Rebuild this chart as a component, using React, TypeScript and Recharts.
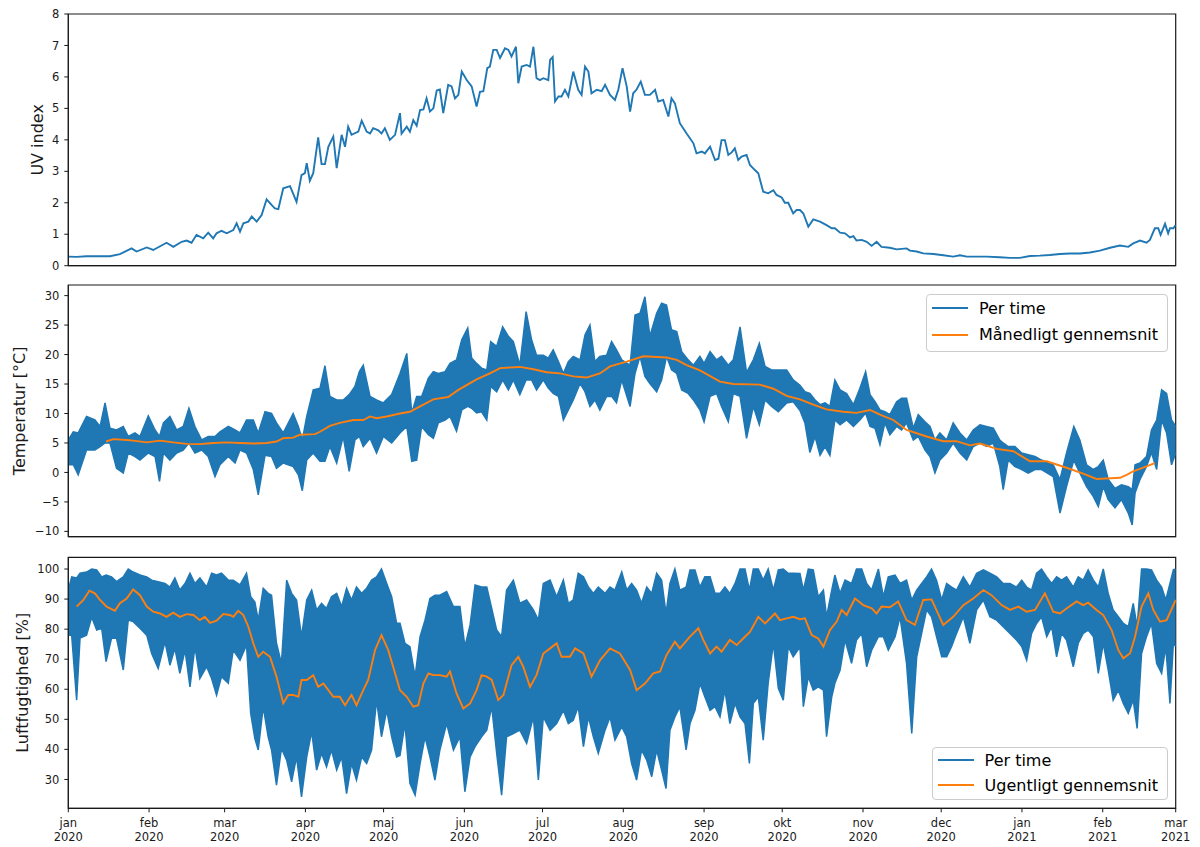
import React from 'react';
import { ComposedChart, Line, Area, XAxis, YAxis, ReferenceArea, Legend } from 'recharts';

const BLUE = '#1f77b4';
const ORANGE = '#ff7f0e';
const INK = '#1a1a1a';
const FONT = '"DejaVu Sans", sans-serif';

// x axis is days since 1 jan 2020
const monthTickDays = [0, 31, 60, 91, 121, 152, 182, 213, 244, 274, 305, 335, 366, 397, 425];
const monthNames = ['jan', 'feb', 'mar', 'apr', 'maj', 'jun', 'jul', 'aug', 'sep', 'okt', 'nov', 'dec', 'jan', 'feb', 'mar'];
const monthYears = ['2020', '2020', '2020', '2020', '2020', '2020', '2020', '2020', '2020', '2020', '2020', '2020', '2021', '2021', '2021'];

const uvTicks = [0, 1, 2, 3, 4, 5, 6, 7, 8];
const tempTicks = [-10, -5, 0, 5, 10, 15, 20, 25, 30];
const humTicks = [30, 40, 50, 60, 70, 80, 90, 100];

const tempLegend = ['Per time', 'Månedligt gennemsnit'];
const humLegend = ['Per time', 'Ugentligt gennemsnit'];

// daily UV index
const uvDay = [
  0, 3.2, 7, 12.2, 16, 19.8, 24.3, 26.2, 30.1, 32.6,
  37.7, 40.3, 43.5, 45.4, 47.3, 49.2, 51.8, 53.7, 55.6, 56.9,
  58.8, 60.8, 63.3, 64.6, 65.9, 67.2, 69.1, 70.4, 72.3, 74.2,
  76.1, 78, 79.3, 80.6, 82.5, 85.1, 87.6, 89.5, 90.8, 91.5,
  92.7, 94, 95.9, 97.2, 98.5, 99.8, 101.7, 103, 104.9, 106.2,
  107.4, 108.7, 111.3, 112.6, 114.5, 115.8, 117, 119, 120.2, 121.5,
  123.4, 125.4, 127.3, 127.9, 129.9, 131.1, 132.4, 133.7, 135, 136.3,
  137.5, 138.8, 140.1, 141.4, 142.6, 143.9, 145.8, 147.1, 148.4, 149.7,
  151, 152.9, 154.8, 156.7, 158, 159.3, 160.8, 161.8, 163.1, 164.4,
  165.7, 167.6, 168.9, 170.1, 171.8, 172.7, 174, 175.9, 177.2, 178.5,
  179.7, 181, 182.3, 184.2, 184.9, 185.9, 186.8, 188.1, 189.3, 190.6,
  191.9, 193.8, 195.7, 197, 198.3, 199.6, 200.8, 202.8, 204.7, 206,
  207.9, 209.8, 211.1, 212.7, 214.3, 215.6, 216.8, 218.1, 219.7, 221.3,
  223.2, 225.2, 226.4, 228.3, 230.3, 231.5, 232.8, 234.7, 237.3, 239.9,
  241.1, 243.1, 244.3, 246.3, 248.2, 249.5, 250.7, 252, 253.3, 254.6,
  255.8, 257.1, 258.4, 260.3, 261.6, 263.5, 264.8, 266.7, 268.6, 270.6,
  271.8, 273.8, 275, 276.3, 278.2, 279.5, 280.8, 282.1, 284, 285.9,
  288.5, 291, 293, 294.2, 296.2, 298.1, 300, 301.3, 302.5, 304.5,
  306.4, 308.3, 310.2, 312.1, 315.3, 317.9, 321.7, 323, 325.6, 328.1,
  332, 335.8, 339.6, 342.2, 344.8, 348.6, 352.4, 357.5, 361.4, 365.2,
  369.1, 372.9, 376.7, 380.6, 384.4, 388.2, 392.1, 395.9, 399.8, 403.6,
  406.8, 408.7, 411.3, 413.8, 415.1, 417, 418.3, 419.2, 420.9, 422.1,
  422.8, 424.1, 425,
];
const uvIndex = [
  0.29, 0.28, 0.3, 0.3, 0.3, 0.37, 0.55, 0.45, 0.58, 0.5,
  0.73, 0.6, 0.76, 0.8, 0.73, 0.98, 0.87, 1.05, 0.87, 1.03,
  1.11, 1.03, 1.13, 1.35, 1.08, 1.35, 1.4, 1.56, 1.4, 1.61,
  2.11, 1.93, 1.82, 1.8, 2.46, 2.53, 2.03, 2.88, 2.94, 3.26,
  2.7, 2.94, 4.08, 3.23, 3.23, 3.78, 4.1, 3.1, 4.16, 3.78,
  4.42, 4.16, 4.26, 4.61, 4.26, 4.2, 4.37, 4.3, 4.2, 4.37,
  4.0, 4.16, 4.85, 4.2, 4.42, 4.26, 4.63, 4.45, 4.95, 4.97,
  5.32, 4.9, 5.0, 5.57, 5.6, 4.85, 5.75, 5.7, 5.32, 5.43,
  6.17, 5.9, 5.7, 5.06, 5.53, 5.55, 6.28, 6.33, 6.86, 6.86,
  6.6, 6.91, 6.86, 6.65, 6.96, 5.8, 6.33, 6.38, 6.33, 6.96,
  5.96, 5.9, 5.96, 5.9, 6.54, 6.63, 5.22, 5.38, 5.38, 5.59,
  5.38, 6.17, 5.59, 5.43, 6.33, 6.17, 5.48, 5.59, 5.55, 5.75,
  5.43, 5.27, 5.6, 6.28, 5.7, 4.9, 5.48, 5.6, 5.85, 5.43,
  5.43, 5.59, 5.22, 5.27, 4.74, 5.32, 5.16, 4.53, 4.2, 3.89,
  3.57, 3.63, 3.57, 3.78, 3.36, 3.4, 3.99, 3.99, 3.52, 3.6,
  3.73, 3.36, 3.47, 3.52, 3.2, 3.04, 2.94, 2.35, 2.3, 2.4,
  2.25, 2.17, 2.0, 2.0, 1.66, 1.77, 1.77, 1.66, 1.24, 1.47,
  1.4, 1.29, 1.19, 1.19, 1.05, 1.03, 0.9, 0.94, 0.8, 0.82,
  0.76, 0.63, 0.76, 0.6, 0.57, 0.52, 0.55, 0.48, 0.45, 0.39,
  0.37, 0.33, 0.29, 0.33, 0.29, 0.29, 0.29, 0.27, 0.25, 0.25,
  0.31, 0.32, 0.34, 0.37, 0.39, 0.39, 0.42, 0.48, 0.57, 0.64,
  0.6, 0.71, 0.8, 0.73, 0.82, 1.19, 1.19, 0.98, 1.33, 1.03,
  1.19, 1.19, 1.29,
];

// hourly temperature, read as the low/high envelope of the band
const tempDay = [
  0, 1.9, 3.8, 7, 10.2, 12.2, 14.1, 16, 18.5, 21.1,
  23, 25.6, 27.5, 30.7, 33.3, 35, 36.5, 39, 41.6, 44.1,
  46.3, 48.6, 51.2, 53.7, 56.3, 58.2, 61.4, 64, 65.9, 68.4,
  71, 72.9, 75.5, 78, 79.9, 82.5, 86.3, 88.3, 89.8, 91.5,
  94, 96.6, 98.5, 100.4, 103, 105.5, 107.8, 110, 111.7, 113.2,
  115.8, 118.3, 120.9, 124.1, 127.3, 129.9, 131.8, 133.7, 135.6, 138.2,
  140.1, 142, 144.6, 146.5, 149, 151, 153.3, 154.8, 156.7, 158.6,
  160.6, 162.1, 164.4, 166.7, 168.9, 170.8, 173.3, 175.7, 177.8, 179.7,
  182.3, 184.2, 186.1, 188.1, 190, 191.9, 193.8, 196.4, 198.3, 200.2,
  202.1, 204, 206.6, 208.5, 210.4, 212.4, 215.6, 217.5, 219.4, 221.3,
  223.2, 225.8, 227.7, 229.6, 231.5, 233.5, 235.4, 237.9, 239.9, 242.4,
  244, 246.3, 248.8, 250.7, 253.3, 255.2, 257.8, 260.3, 262.9, 265.2,
  267.4, 269.9, 272.5, 275.7, 278.2, 280.8, 282.7, 284.6, 286.6, 288.5,
  290.4, 292.3, 294.2, 296.2, 298.7, 301.3, 303.8, 306, 307.7, 309.6,
  311.5, 313.4, 315.3, 317.9, 319.8, 321.7, 324.3, 326.2, 328.8, 330.7,
  332.6, 334.5, 337.1, 339.6, 342.2, 344.8, 347.3, 349.9, 352.4, 355,
  357.5, 358.8, 360.7, 363.3, 365.9, 368.4, 371, 373.5, 378, 380.6,
  383.1, 385.9, 388.2, 390.8, 393.4, 395.3, 397.2, 399.1, 401.7, 404.2,
  406.8, 408.3, 409.4, 411.3, 413.8, 415.7, 417.7, 419.6, 421.5, 423.4,
  425,
];
const tempHigh = [
  5.5, 6.9, 6.7, 9.5, 8.9, 7.8, 11.8, 7.5, 7.2, 7.8,
  6.1, 6.7, 6.1, 9.6, 7.2, 6.1, 8.4, 9.5, 7.2, 7.8,
  10.9, 7.8, 5.5, 6.1, 6.1, 6.9, 7.8, 7.2, 6.7, 8.9,
  8.9, 6.7, 10.3, 10.0, 8.4, 6.7, 10.0, 7.8, 5.5, 9.5,
  14.0, 14.3, 18.1, 12.9, 12.3, 12.3, 13.2, 14.6, 17.1, 18.2,
  12.9, 12.3, 11.8, 13.2, 16.8, 20.2, 10.1, 12.9, 12.9, 16.0,
  17.1, 16.8, 17.1, 18.5, 19.1, 22.5, 24.5, 19.4, 18.5, 17.7,
  17.4, 22.2, 21.4, 24.7, 23.1, 22.2, 18.2, 27.3, 22.5, 19.9,
  19.9, 19.4, 20.8, 18.8, 16.8, 18.8, 19.7, 19.1, 23.3, 25.0,
  18.8, 19.7, 19.9, 22.2, 20.8, 19.1, 18.2, 26.7, 27.0, 29.8,
  23.1, 27.0, 28.7, 28.4, 24.2, 23.9, 20.5, 19.1, 18.2, 19.7,
  18.5, 20.5, 19.1, 19.7, 18.2, 19.1, 24.7, 17.0, 19.1, 21.9,
  18.0, 17.4, 17.4, 17.4, 15.7, 14.8, 13.7, 13.4, 12.3, 11.5,
  11.8, 11.2, 15.7, 14.0, 13.4, 11.5, 14.3, 17.1, 13.2, 12.0,
  10.6, 10.3, 9.8, 12.0, 12.6, 12.6, 7.5, 9.8, 8.6, 7.8,
  5.5, 6.7, 5.5, 8.4, 6.7, 5.5, 7.2, 8.1, 7.8, 7.5,
  5.5, 5.0, 4.4, 4.4, 3.3, 3.0, 2.7, 2.1, 1.3, -1.2,
  3.3, 7.8, 5.5, 1.3, 0.5, 1.0, 2.1, -1.2, -2.7, -2.1,
  -2.4, -2.9, 1.3, 1.6, 2.7, 7.2, 8.9, 14.0, 13.4, 8.9,
  7.8,
];
const tempLow = [
  1.3, 1.3, -0.4, 3.8, 3.8, 4.4, 5.0, 5.0, 0.7, -0.1,
  3.3, 2.7, 2.1, 3.3, 2.7, -1.5, 3.3, 2.1, 3.3, 3.8,
  5.0, 3.3, 3.8, 2.7, -0.7, 1.3, 2.7, 1.6, 3.8, 3.3,
  0.5, -3.8, 2.9, 2.7, 0.7, 1.6, 1.0, -0.4, -3.1, 2.1,
  3.3, 1.9, 1.9, 4.4, 1.6, 6.1, 0.2, 5.5, 6.1, 4.4,
  5.8, 3.3, 6.1, 5.0, 6.7, 7.8, 1.9, 2.1, 7.8, 6.4,
  5.8, 8.4, 8.9, 9.5, 7.0, 10.6, 11.2, 10.9, 10.1, 10.3,
  8.9, 14.6, 13.7, 15.7, 14.0, 15.7, 13.2, 15.7, 15.7, 14.0,
  15.7, 14.3, 13.4, 12.9, 8.9, 10.6, 12.3, 15.1, 13.7, 11.2,
  12.3, 10.6, 12.9, 12.9, 11.8, 15.7, 11.2, 16.8, 19.7, 16.3,
  15.1, 13.7, 15.7, 19.7, 17.4, 16.8, 14.0, 13.4, 12.3, 10.6,
  8.6, 12.9, 13.4, 11.2, 8.6, 13.4, 12.9, 5.8, 11.2, 8.1,
  12.3, 11.2, 10.3, 11.8, 12.0, 10.5, 8.4, 3.4, 6.1, 2.9,
  4.4, 2.9, 8.9, 8.1, 8.9, 7.8, 8.9, 10.1, 7.8, 7.5,
  4.7, 8.4, 6.4, 7.8, 7.2, 8.4, 5.5, 6.1, 3.8, 2.7,
  -0.1, 2.1, 3.3, 5.0, 3.3, 2.1, 4.4, 5.0, 4.4, 5.0,
  1.0, -2.9, 2.1, 1.0, 0.5, -0.1, 0.5, 0.5, -0.7, -6.9,
  -2.4, 2.1, -0.1, -2.4, -4.1, -5.8, -2.4, -4.6, -6.0, -4.6,
  -6.9, -8.9, -3.5, -1.2, 1.0, 3.4, 0.5, 8.9, 6.7, 1.3,
  3.3,
];

// monthly (rolling) temperature average
const tempAvgDay = [
  14.5, 17.3, 22.4, 24.9, 30.1, 35.2, 40.3, 45.4, 50.5, 55.6,
  60.8, 65.9, 71, 76.1, 79.9, 82.5, 86.3, 88.9, 94.7, 96.6,
  100.4, 104.2, 109.4, 113.2, 115.8, 118.3, 122.2, 127.3, 131.1, 135,
  140.1, 145.8, 149.7, 156.7, 161.8, 165.7, 173.3, 178.5, 183.6, 188.7,
  193.8, 198.9, 204, 207.9, 214.3, 220.7, 229.6, 233.5, 237.3, 242.4,
  250.1, 255.2, 265.4, 270.6, 275.7, 280.8, 285.9, 291, 297.4, 302.5,
  307.7, 311.5, 316.6, 321.7, 329.4, 335.8, 340.9, 346, 349.9, 356.3,
  362.7, 369.1, 375.5, 383.1, 389.5, 394.6, 403.6, 406.2, 408.7, 412.5,
  417,
];
const tempAvg = [
  5.25, 5.65, 5.5, 5.4, 5.1, 5.4, 5.1, 4.85, 4.8, 5.0,
  5.1, 5.0, 4.9, 5.0, 5.25, 5.8, 5.9, 6.4, 6.5, 6.9,
  7.9, 8.4, 8.9, 8.9, 9.5, 9.2, 9.5, 10.0, 10.3, 11.2,
  12.4, 12.8, 14.0, 15.8, 16.8, 17.7, 17.9, 17.5, 17.0, 16.8,
  16.3, 16.1, 16.8, 18.0, 18.8, 19.7, 19.5, 19.1, 18.2, 17.3,
  15.4, 15.0, 14.9, 14.2, 13.0, 12.4, 11.5, 10.7, 10.3, 10.1,
  10.6, 9.8, 8.9, 7.2, 6.1, 5.3, 5.3, 4.6, 4.9, 4.0,
  3.6, 1.9, 1.9, 0.8, -0.2, -1.1, -0.9, -0.4, 0.2, 0.8,
  1.6,
];

// hourly humidity, low/high envelope
const humDay = [
  0, 1.3, 3.2, 4.5, 7, 9, 10.9, 12.8, 14.5, 16.6,
  18.5, 21.1, 23, 24.9, 27.5, 30.1, 32, 34.5, 37.1, 39,
  40.9, 42.8, 44.8, 46.7, 48.6, 50.5, 53.1, 55, 56.9, 58.8,
  61.4, 63.3, 65.9, 68.4, 70, 71.6, 72.9, 74.8, 76.7, 78,
  79.9, 81.8, 83.8, 85.7, 87.6, 89.5, 91.5, 93.4, 95.3, 97.2,
  99.1, 101, 103, 104.9, 106.8, 108.7, 110.6, 112.6, 114.5, 116.4,
  118.3, 120.2, 122.2, 124.1, 126, 127.3, 129.2, 131.1, 133.1, 135,
  136.9, 138.8, 140.7, 142.6, 145.2, 147.8, 150.3, 152.2, 154.2, 156.1,
  158.6, 160.6, 162.5, 164.4, 166.3, 168.2, 170.8, 173.3, 175.9, 178.5,
  180.4, 182.3, 184.9, 187.4, 190, 191.9, 193.8, 195.7, 197.7, 199.6,
  201.5, 203.4, 206, 207.9, 209.8, 212.4, 214.3, 216.2, 218.1, 220,
  222, 223.9, 225.8, 227.7, 229.4, 230.9, 232.8, 234.7, 237.1, 238.6,
  240.5, 242.4, 244.3, 246.3, 248.2, 250.1, 252, 253.9, 255.9, 257.8,
  259.7, 261.4, 262.9, 264.8, 266.7, 268.6, 270.6, 272.5, 274.4, 276.3,
  278.2, 280.8, 282.1, 284, 285.9, 287.8, 289.8, 291, 293, 294.2,
  296.2, 298.1, 300.6, 302.5, 304.5, 306.4, 308.3, 310.9, 312.8, 314.7,
  317.3, 319.2, 321.7, 323.7, 325.6, 327.5, 329.4, 331.3, 333.2, 335.2,
  337.1, 339, 340.9, 343.5, 346, 348.6, 351.2, 353.7, 356.3, 358.8,
  361.4, 363.9, 365.9, 367.8, 369.7, 371.6, 373.5, 375.5, 377.4, 379.3,
  381.2, 383.1, 385.7, 387.6, 389.5, 391.4, 393.4, 395.3, 397.2, 399.1,
  401, 403, 404.9, 406.8, 408.7, 410.2, 411.9, 413.8, 415.7, 417.7,
  419.6, 421.2, 422.8, 424.1, 425,
];
const humHigh = [
  93, 97.4, 97, 98.6, 99, 100, 99.7, 97.4, 98, 97.4,
  95.8, 97.4, 100, 99, 98, 97.4, 96.3, 95.8, 95.2, 94,
  97, 93, 95.2, 98.6, 95.2, 97, 94, 98.6, 98, 98.6,
  96.3, 96.3, 94.7, 98.6, 90.8, 89, 83, 93.6, 91.9, 91.3,
  75.3, 68.6, 96.3, 91.9, 89.7, 77.5, 89.7, 93, 86.4, 88.6,
  86.9, 90.8, 91.9, 87.5, 93.6, 89.7, 94, 91.9, 93.6, 96.3,
  97.4, 100, 95.2, 90.8, 82, 82, 75.3, 74.2, 64.2, 77.5,
  83, 90.2, 91.3, 91.3, 92.5, 87.5, 87.5, 74.2, 81.4, 94.7,
  94, 94, 86.9, 79.7, 77.5, 93, 96.3, 88.6, 89.7, 86.4,
  83, 95.2, 96.3, 90.8, 96.3, 88.6, 89.7, 98.6, 97.4, 94,
  91.9, 94, 91.9, 94, 93, 99, 93, 95.2, 93, 88.6,
  94, 91.9, 98.6, 96.3, 85.2, 95.2, 100, 93, 94, 99.7,
  99.7, 94, 97.4, 97.4, 91.9, 91.9, 94, 91.9, 95.2, 100,
  100, 93, 100, 100, 96.3, 100, 93, 99.7, 100, 98.6,
  98.6, 98.5, 93, 100, 99.7, 90.8, 93, 84.1, 93, 98,
  91.9, 96.3, 95.2, 100, 100, 95.2, 93, 100, 90.8, 97.4,
  98, 95.2, 96.3, 89.7, 93, 95.2, 97.4, 100, 96.3, 89.7,
  95.2, 94, 93, 97.4, 94, 98.6, 99.7, 98.6, 97.4, 95.2,
  95.2, 94, 96.3, 94, 93, 98.6, 100, 97.4, 95.2, 97.4,
  96.3, 97.4, 94, 97.4, 96.3, 99.7, 96.3, 94, 100, 91.9,
  86.4, 84.1, 81.9, 80.8, 88.6, 80.8, 100, 100, 99.7, 96.3,
  94, 89.7, 95.2, 99.7, 100,
];
const humLow = [
  78, 78, 56.4, 77, 78, 84, 79.7, 80.3, 69.2, 77,
  77, 66.4, 83, 82.5, 80.3, 78, 71.9, 66.9, 75.8, 68,
  73.6, 65.3, 73, 60.8, 74.2, 63.6, 67.5, 63.6, 58, 64.2,
  62, 73, 69.7, 74.7, 52, 43.6, 39.8, 54.2, 44.2, 39.8,
  28.1, 40.3, 36.4, 29.2, 37.5, 24.2, 37.5, 45.9, 33.1, 38.7,
  34.2, 39.8, 33.1, 37.5, 25.3, 35.3, 29.8, 37.5, 35.3, 39.8,
  56.4, 44.2, 53, 44.2, 37.5, 38, 48.6, 28.7, 24.8, 35.3,
  44.2, 37.5, 29.8, 39.8, 48.6, 39.8, 44.2, 25.9, 37.5, 40.9,
  44.2, 46.4, 54.2, 38.7, 24.8, 44.2, 45.3, 46.4, 42, 50.8,
  29.8, 50.8, 46.4, 48.6, 53, 48.6, 49.7, 54.2, 40.9, 50.8,
  44.2, 38.7, 46.4, 50.8, 43.1, 47.5, 44.2, 35.3, 29.8, 39.8,
  36.4, 30.9, 39.8, 33.1, 27, 46.4, 50.8, 54.2, 39.8, 48.6,
  53, 62, 57.5, 53, 54.2, 50.8, 59.7, 48.6, 55.3, 50.8,
  48.6, 35.3, 55.3, 57.5, 43.1, 62, 75.3, 60.3, 56.4, 74.2,
  70.8, 74, 54.2, 64.2, 59.7, 60.8, 59.7, 44.2, 57.5, 62,
  66.4, 76.4, 68.6, 76.4, 78.6, 67.5, 73, 77.5, 77.5, 73,
  77.5, 84.1, 68.6, 45.3, 70.8, 78.6, 86.4, 84.1, 77.5, 70.8,
  70.8, 74.2, 78.6, 84.1, 75.3, 86.4, 89.7, 84.1, 83, 80.8,
  78.6, 76.4, 74.2, 69.7, 78.6, 81.9, 84.1, 77.5, 80.8, 70.8,
  78.6, 76.4, 67.5, 75.3, 78.6, 79.7, 77.5, 65.3, 75.3, 66.4,
  56.4, 59.7, 55.3, 52, 56.4, 47, 71.9, 77.5, 81.9, 68.6,
  65.3, 74.2, 55.3, 75.3, 74.2,
];

// weekly (rolling) humidity average
const humAvgDay = [
  3.2, 5.8, 8.1, 10.2, 12.2, 14.7, 17.9, 19.8, 22.4, 24.9,
  27.5, 30.1, 32.6, 35.2, 37.7, 40.3, 42.8, 45.4, 48, 50.5,
  52.4, 54.4, 56.9, 59.5, 62, 63.3, 65.2, 67.2, 69.1, 71,
  72.9, 74.8, 77.4, 79.9, 82.5, 84.4, 86.3, 88.3, 89.5, 91.5,
  94, 95.9, 97.9, 99.8, 101.7, 104.2, 106.2, 108.7, 110.6, 113.2,
  115.1, 117.7, 120.2, 122.8, 125.4, 127.3, 129.9, 132.4, 134.3, 136.3,
  138.2, 140.1, 142.6, 145.2, 146.5, 149, 151.6, 154.2, 156.7, 158.6,
  160.6, 162.5, 165, 167, 170.1, 172.7, 174.6, 177.2, 179.7, 182.3,
  184.9, 187.4, 189.3, 192.5, 194.5, 197.7, 200.8, 204.1, 207.9, 211.7,
  215.6, 218.1, 221.3, 224.5, 227.1, 229.6, 232.8, 234.7, 238.6, 241.8,
  243.7, 246.3, 248.8, 250.7, 253.9, 256.5, 259, 261.6, 264.8, 267.4,
  271.2, 273.1, 275.7, 278.2, 280.8, 282.7, 285.3, 287.8, 289.8, 292.3,
  294.9, 296.8, 298.7, 301.9, 305.1, 308.3, 310.2, 312.1, 315.3, 318.5,
  321.7, 324.9, 328.1, 331.3, 335.8, 339.6, 343.5, 347.3, 351.2, 354.3,
  358.2, 361.4, 364.6, 367.8, 371, 374.8, 378, 380.6, 383.1, 387,
  389.5, 391.4, 394.6, 397.2, 400.4, 403, 404.9, 407.5, 409.4, 411.9,
  414.5, 416.4, 419, 421.5, 425,
];
const humAvg = [
  87.5, 89.7, 92.8, 91.9, 89.7, 87.5, 86.1, 88.6, 90.2, 93.2,
  91.3, 87.5, 85.8, 85.2, 84.1, 85.5, 84.1, 85.0, 84.7, 83.0,
  84.1, 82.1, 82.8, 85.0, 84.7, 84.1, 86.1, 84.7, 80.8, 75.3,
  70.8, 72.5, 70.8, 64.2, 55.3, 58.1, 58.1, 57.5, 63.1, 63.1,
  64.7, 60.8, 61.9, 59.7, 57.5, 57.5, 54.7, 58.1, 54.7, 59.7,
  63.1, 73.0, 78.0, 73.0, 65.3, 59.7, 57.5, 54.2, 54.7, 62.0,
  65.3, 64.7, 64.7, 64.2, 65.9, 58.6, 53.6, 55.3, 59.7, 64.7,
  64.2, 63.1, 56.4, 58.1, 68.0, 70.8, 67.5, 60.8, 64.7, 71.9,
  73.6, 75.3, 70.8, 70.8, 73.6, 71.9, 64.2, 69.7, 73.6, 71.9,
  66.4, 59.7, 61.9, 65.3, 65.9, 71.4, 75.8, 73.6, 77.5, 80.3,
  76.4, 71.9, 74.2, 72.5, 76.4, 74.7, 76.9, 79.1, 84.1, 81.9,
  85.2, 83.0, 83.6, 84.1, 83.3, 83.6, 78.0, 76.9, 74.2, 79.7,
  82.5, 86.4, 84.7, 90.2, 88.0, 86.9, 85.2, 87.5, 87.3, 89.2,
  83.0, 81.4, 89.7, 89.9, 81.4, 84.1, 88.0, 90.2, 93.0, 91.3,
  88.0, 86.4, 87.5, 85.8, 86.4, 91.9, 85.8, 85.2, 86.9, 89.2,
  88.0, 88.8, 86.4, 84.7, 79.7, 73.0, 70.3, 72.0, 77.5, 87.5,
  91.9, 86.4, 82.5, 83.0, 89.7,
];

const uvData = uvDay.map((day, i) => ({ day, uv: uvIndex[i] }));
const tempData = tempDay.map((day, i) => ({ day, range: [tempLow[i], tempHigh[i]] }));
const tempAvgData = tempAvgDay.map((day, i) => ({ day, avg: tempAvg[i] }));
const humData = humDay.map((day, i) => ({ day, range: [humLow[i], humHigh[i]] }));
const humAvgData = humAvgDay.map((day, i) => ({ day, avg: humAvg[i] }));

const X_MAX = 425;
const UV_DOMAIN: [number, number] = [0, 8];
const TEMP_DOMAIN: [number, number] = [-10.9, 31.8];
const HUM_DOMAIN: [number, number] = [20.4, 103.9];

const tickStyle = { fill: INK, fontSize: 11.5, fontFamily: FONT };
const fmtMinus = (v: number) => (v < 0 ? `\u2212${Math.abs(v)}` : `${v}`);

function yLabel(text: string, x: number) {
  return {
    value: text,
    content: (props: any) => {
      const vb = props.viewBox || { y: 0, height: 0 };
      const cy = vb.y + vb.height / 2;
      return (
        <text x={x} y={cy} transform={`rotate(-90 ${x} ${cy})`} textAnchor="middle"
          fontSize={16} fontFamily={FONT} fill={INK}>
          {text}
        </text>
      );
    },
  };
}

const MonthTick = (props: any) => {
  const { x, y, payload } = props;
  const i = monthTickDays.indexOf(payload.value);
  return (
    <text x={x} y={y} textAnchor="middle" fontSize={11.5} fontFamily={FONT} fill={INK}>
      <tspan x={x} dy={12.4}>{monthNames[i]}</tspan>
      <tspan x={x} dy={14.3}>{monthYears[i]}</tspan>
    </text>
  );
};

function LegendBox({ labels, rowHeight, padBottom }: { labels: string[]; rowHeight: number; padBottom: number }) {
  const colors = [BLUE, ORANGE];
  return (
    <div style={{
      background: 'rgba(255,255,255,0.8)', border: '1px solid #cccccc', borderRadius: 4,
      padding: `0 9px ${padBottom}px 5px`, fontFamily: FONT, fontSize: 16, color: '#000',
      whiteSpace: 'nowrap',
    }}>
      {labels.map((l, i) => (
        <div key={l} style={{ display: 'flex', alignItems: 'center', height: rowHeight }}>
          <span style={{ display: 'inline-block', width: 36, height: 2, background: colors[i], marginRight: 11 }} />
          <span>{l}</span>
        </div>
      ))}
    </div>
  );
}

const xCommon = {
  dataKey: 'day',
  type: 'number' as const,
  domain: [0, X_MAX],
  ticks: monthTickDays,
  interval: 0,
  allowDataOverflow: true,
  stroke: INK,
  tickSize: 4,
};

const yCommon = {
  type: 'number' as const,
  interval: 0,
  allowDataOverflow: true,
  width: 60,
  tickSize: 4,
  tickMargin: 5,
  stroke: INK,
  tick: tickStyle,
  tickFormatter: fmtMinus,
};

const frame = (d: [number, number]) => (
  <ReferenceArea x1={0} x2={X_MAX} y1={d[0]} y2={d[1]} fill="none" fillOpacity={0}
    stroke={INK} strokeWidth={1.2} ifOverflow="visible" />
);

export default function App() {
  return (
    <div style={{ position: 'absolute', left: 0, top: 0, width: 1200, height: 847, background: '#fff', fontFamily: FONT }}>
      <div style={{ position: 'absolute', left: 0, top: 0 }}>
        <ComposedChart width={1200} height={280} data={uvData} margin={{ top: 14, right: 24.3, bottom: 0, left: 8.3 }}>
          <XAxis {...xCommon} height={14.3} tick={false} />
          <YAxis {...yCommon} domain={UV_DOMAIN} ticks={uvTicks} label={yLabel('UV index', 42.8)} />
          {frame(UV_DOMAIN)}
          <Line dataKey="uv" type="linear" stroke={BLUE} strokeWidth={1.9} dot={false} activeDot={false}
            isAnimationActive={false} />
        </ComposedChart>
      </div>

      <div style={{ position: 'absolute', left: 0, top: 280 }}>
        <ComposedChart width={1200} height={270} margin={{ top: 5, right: 24.3, bottom: 0, left: 8.3 }}>
          <XAxis {...xCommon} height={13.3} tick={false} />
          <YAxis {...yCommon} domain={TEMP_DOMAIN} ticks={tempTicks} label={yLabel('Temperatur [°C]', 24.8)} />
          {frame(TEMP_DOMAIN)}
          <Area data={tempData} dataKey="range" name={tempLegend[0]} type="linear" stroke={BLUE} strokeWidth={1.5}
            fill={BLUE} fillOpacity={1} dot={false} activeDot={false} isAnimationActive={false} />
          <Line data={tempAvgData} dataKey="avg" name={tempLegend[1]} type="linear" stroke={ORANGE} strokeWidth={1.9}
            dot={false} activeDot={false} isAnimationActive={false} />
          <Legend layout="horizontal" verticalAlign="middle" align="center"
            wrapperStyle={{ top: 14, right: 32, left: 'auto', width: 'auto', height: 'auto' }}
            content={() => <LegendBox labels={tempLegend} rowHeight={26.5} padBottom={3} />} />
        </ComposedChart>
      </div>

      <div style={{ position: 'absolute', left: 0, top: 550 }}>
        <ComposedChart width={1200} height={297} margin={{ top: 7.3, right: 24.3, bottom: 0, left: 8.3 }}>
          <XAxis {...xCommon} height={38.7} tick={<MonthTick />} />
          <YAxis {...yCommon} domain={HUM_DOMAIN} ticks={humTicks} label={yLabel('Luftfugtighed [%]', 27.8)} />
          {frame(HUM_DOMAIN)}
          <Area data={humData} dataKey="range" name={humLegend[0]} type="linear" stroke={BLUE} strokeWidth={1.5}
            fill={BLUE} fillOpacity={1} dot={false} activeDot={false} isAnimationActive={false} />
          <Line data={humAvgData} dataKey="avg" name={humLegend[1]} type="linear" stroke={ORANGE} strokeWidth={1.9}
            dot={false} activeDot={false} isAnimationActive={false} />
          <Legend layout="horizontal" verticalAlign="middle" align="center"
            wrapperStyle={{ top: 196.7, right: 32, left: 'auto', width: 'auto', height: 'auto' }}
            content={() => <LegendBox labels={humLegend} rowHeight={25} padBottom={1.3} />} />
        </ComposedChart>
      </div>
    </div>
  );
}
